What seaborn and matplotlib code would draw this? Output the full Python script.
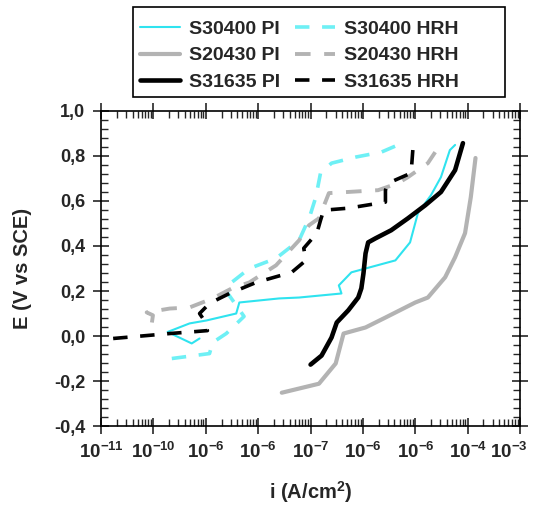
import numpy as np
import pandas as pd
import matplotlib
matplotlib.use("Agg")
import matplotlib.pyplot as plt
import matplotlib.transforms as mtransforms
from matplotlib.patches import Rectangle
import seaborn as sns
from matplotlib.ticker import FixedLocator, FixedFormatter, LogLocator, MultipleLocator, FuncFormatter, NullFormatter

# --- data (x as log10 of i in A/cm2, E in V vs SCE) ---
s30400_pi_logi = [-9.12, -9.27, -9.73, -9.31, -8.99, -8.42, -8.36, -7.60, -7.22, -6.41, -6.46,
                  -6.22, -5.38, -5.10, -4.95, -4.70, -4.51, -4.34, -4.24]
s30400_pi_E = [-0.011, -0.033, 0.018, 0.056, 0.069, 0.100, 0.149, 0.167, 0.171, 0.189, 0.225,
               0.283, 0.336, 0.416, 0.546, 0.626, 0.706, 0.826, 0.849]

s30400_hrh_logi = [-9.65, -8.93, -8.87, -8.61, -8.27, -8.65, -8.17, -7.66, -7.22, -7.02, -6.90,
                   -6.81, -6.60, -6.14, -5.65, -5.33]
s30400_hrh_E = [-0.100, -0.078, -0.029, 0.011, 0.087, 0.212, 0.300, 0.345, 0.425, 0.528, 0.617,
                0.724, 0.768, 0.795, 0.817, 0.849]

s20430_pi_logi = [-7.55, -6.84, -6.52, -6.37, -5.95, -5.57, -5.00, -4.76, -4.43, -4.24, -4.05,
                  -3.94, -3.85]
s20430_pi_E = [-0.252, -0.212, -0.122, 0.011, 0.038, 0.082, 0.149, 0.171, 0.261, 0.350, 0.457,
               0.617, 0.791]

s20430_hrh_logi = [-10.03, -10.01, -10.13, -9.69, -9.31, -8.87, -8.50, -8.17, -7.66, -7.22, -7.03,
                   -6.84, -6.65, -5.71, -5.33, -5.14, -4.76, -4.62]
s20430_hrh_E = [0.060, 0.092, 0.105, 0.122, 0.127, 0.167, 0.212, 0.238, 0.314, 0.425, 0.492,
                0.523, 0.635, 0.648, 0.679, 0.706, 0.768, 0.817]

s31635_pi_logi = [-7.00, -6.79, -6.60, -6.50, -6.28, -6.09, -6.03, -5.99, -5.95, -5.90, -5.76,
                  -5.46, -5.14, -4.81, -4.51, -4.24, -4.09]
s31635_pi_E = [-0.127, -0.087, -0.007, 0.060, 0.114, 0.171, 0.212, 0.278, 0.367, 0.416, 0.434,
               0.470, 0.523, 0.581, 0.640, 0.737, 0.857]

s31635_hrh_logi = [-10.77, -10.13, -9.69, -9.18, -8.97, -9.03, -9.12, -8.93, -8.55, -8.04, -7.36,
                   -7.09, -7.13, -6.88, -6.81, -6.75, -6.28, -5.57, -5.57, -5.52, -5.08, -5.04]
s31635_hrh_E = [-0.011, 0.002, 0.011, 0.020, 0.024, 0.069, 0.100, 0.145, 0.189, 0.238, 0.283,
                0.336, 0.390, 0.457, 0.514, 0.559, 0.568, 0.595, 0.648, 0.679, 0.724, 0.849]

x_tick_exp = [-11, -10, -9, -8, -7, -6, -5, -4, -3]
x_tick_text = ["-11", "-10", "-6", "-6", "-7", "-6", "-6", "-4", "-3"]
y_ticks = [-0.4, -0.2, 0.0, 0.2, 0.4, 0.6, 0.8, 1.0]

series = [
    ("S30400 PI", s30400_pi_logi, s30400_pi_E, "#2fe3ef", "-", 1.5),
    ("S20430 PI", s20430_pi_logi, s20430_pi_E, "#b3b3b3", "-", 3.0),
    ("S31635 PI", s31635_pi_logi, s31635_pi_E, "#000000", "-", 3.3),
    ("S30400 HRH", s30400_hrh_logi, s30400_hrh_E, "#6ef0f5", (0, (4, 3.5)), 2.6),
    ("S20430 HRH", s20430_hrh_logi, s20430_hrh_E, "#b3b3b3", (0, (4, 3.5)), 2.8),
    ("S31635 HRH", s31635_hrh_logi, s31635_hrh_E, "#000000", (0, (4, 3.5)), 2.6),
]

sns.set_theme(style="ticks")
plt.rcParams["font.family"] = ["Liberation Sans", "DejaVu Sans"]
plt.rcParams["font.weight"] = "bold"
plt.rcParams["mathtext.fontset"] = "custom"
plt.rcParams["mathtext.rm"] = "Liberation Sans:bold"
plt.rcParams["mathtext.bf"] = "Liberation Sans:bold"
plt.rcParams["mathtext.default"] = "bf"

fig = plt.figure(figsize=(5.35, 5.09), dpi=100)
ax = fig.add_axes([0.189, 0.163, 0.783, 0.619])

for name, lx, ey, col, ls, lw in series:
    d = pd.DataFrame({"i": 10.0 ** np.array(lx), "E": ey})
    sns.lineplot(data=d, x="i", y="E", sort=False, estimator=None, ax=ax,
                 color=col, linewidth=lw, linestyle=ls, label=name)

ax.set_xscale("log")
ax.set_xlim(1e-11, 1e-3)
ax.set_ylim(-0.4, 1.0)

ax.xaxis.set_major_locator(FixedLocator([10.0 ** e for e in x_tick_exp]))
ax.xaxis.set_major_formatter(FixedFormatter([r"$10^{%s}$" % t for t in x_tick_text]))
ax.xaxis.set_minor_locator(LogLocator(base=10, subs=np.arange(2, 10), numticks=20))
ax.xaxis.set_minor_formatter(NullFormatter())
ax.yaxis.set_major_locator(FixedLocator(y_ticks))
ax.yaxis.set_minor_locator(MultipleLocator(0.04))
ax.yaxis.set_major_formatter(FuncFormatter(lambda v, p: f"{v:.1f}".replace(".", ",")))

for s in ax.spines.values():
    s.set_linewidth(1.2)
    s.set_color("black")
ax.tick_params(which="major", direction="inout", length=11, width=1.2,
               top=True, right=True, pad=6)
ax.tick_params(which="minor", direction="in", length=5, width=1.0, top=True, right=True)
ax.tick_params(axis="x", which="major", labelsize=13.5)
ax.tick_params(axis="y", which="major", labelsize=13)
for lab in ax.get_xticklabels() + ax.get_yticklabels():
    lab.set_fontweight("bold")

# keep the last x label inside the figure
last = ax.xaxis.get_major_ticks()[-1].label1
last.set_transform(last.get_transform() + mtransforms.ScaledTranslation(-8 / 72, 0, fig.dpi_scale_trans))

ax.set_xlabel("i (A/cm$^{2}$)", fontsize=14.5, fontweight="bold", labelpad=12)
ax.set_ylabel("E (V vs SCE)", fontsize=14.5, fontweight="bold", labelpad=16)

leg = ax.legend(ncol=2, loc="upper left", bbox_to_anchor=(0.262, 0.960), bbox_transform=fig.transFigure,
                frameon=False, fontsize=14, handlelength=2.05, columnspacing=0.8,
                labelspacing=0.45, borderpad=0, handletextpad=0.45, borderaxespad=0)
for t in leg.get_texts():
    t.set_fontweight("bold")

# legend frame as in the reference (wider than its entries)
fig.patches.append(Rectangle((0.249, 1 - 97 / 509), 0.695, 90 / 509, transform=fig.transFigure,
                             fill=False, edgecolor="black", linewidth=1.2))

fig.savefig("out.png", dpi=100)
